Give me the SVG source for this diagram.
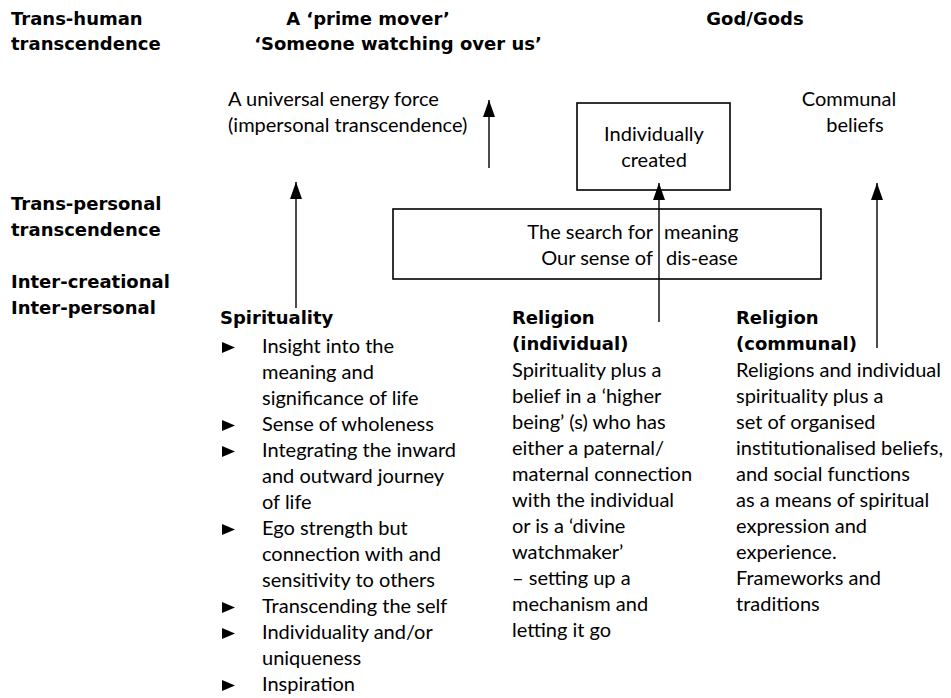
<svg xmlns="http://www.w3.org/2000/svg" width="951" height="698" viewBox="0 0 951 698">
<style>
text{font-family:Lato,"Liberation Sans",sans-serif;font-size:20px;fill:#000}
.b{font-family:"DejaVu Sans","Liberation Sans",sans-serif;font-weight:bold;font-size:18px}
.c{text-anchor:middle}
.e{text-anchor:end}
.ln{stroke:#000;stroke-width:1.4;fill:none}
.bx{stroke:#000;stroke-width:1.6;fill:#fff}
</style>
<defs>
<marker id="ah" markerUnits="userSpaceOnUse" markerWidth="17" markerHeight="12" viewBox="0 0 17 12" refX="17" refY="6" orient="auto">
<path d="M0,0 L17,6 L0,12 Z" fill="#000"/>
</marker>
<path id="bul" d="M0,0 L13,5.5 L0,11 Z" fill="#000"/>
</defs>
<rect width="951" height="698" fill="#fff"/>
<g id="levels">
<text class="b" x="11" y="25">Trans-human</text>
<text class="b" x="11" y="50">transcendence</text>
<text class="b" x="11" y="210">Trans-personal</text>
<text class="b" x="11" y="236">transcendence</text>
<text class="b" x="11" y="288">Inter-creational</text>
<text class="b" x="11" y="314">Inter-personal</text>
</g>
<g id="top-labels">
<text class="b c" x="368" y="25">A ‘prime mover’</text>
<text class="b c" x="398" y="50">‘Someone watching over us’</text>
<text class="b c" x="755" y="25">God/Gods</text>
</g>
<g id="universal">
<text x="228" y="106">A universal energy force</text>
<text x="228" y="132">(impersonal transcendence)</text>
</g>
<g id="communal-beliefs">
<text class="c" x="849" y="106">Communal</text>
<text class="c" x="855" y="132">beliefs</text>
</g>
<g id="individually-created">
<rect class="bx" x="577" y="103" width="153" height="87"/>
<text class="c" x="654" y="141">Individually</text>
<text class="c" x="654" y="167">created</text>
</g>
<g id="search">
<rect class="bx" x="393" y="209" width="428" height="70"/>
<text class="e" x="653" y="239">The search for</text>
<text x="664" y="239">meaning</text>
<text class="e" x="653" y="265">Our sense of</text>
<text x="666" y="265">dis-ease</text>
</g>
<g id="connectors">
<line class="ln" x1="489" y1="168" x2="489" y2="100" marker-end="url(#ah)"/>
<line class="ln" x1="296" y1="308" x2="296" y2="182" marker-end="url(#ah)"/>
<line class="ln" x1="659" y1="322" x2="659" y2="183" marker-end="url(#ah)"/>
<line class="ln" x1="877" y1="348" x2="877" y2="183" marker-end="url(#ah)"/>
</g>
<g id="spirituality">
<text class="b" x="220" y="324">Spirituality</text>
<use href="#bul" x="222" y="342"/>
<text x="262" y="353">Insight into the</text>
<text x="262" y="379">meaning and</text>
<text x="262" y="405">significance of life</text>
<use href="#bul" x="222" y="420"/>
<text x="262" y="431">Sense of wholeness</text>
<use href="#bul" x="222" y="446"/>
<text x="262" y="457">Integrating the inward</text>
<text x="262" y="483">and outward journey</text>
<text x="262" y="509">of life</text>
<use href="#bul" x="222" y="524"/>
<text x="262" y="535">Ego strength but</text>
<text x="262" y="561">connection with and</text>
<text x="262" y="587">sensitivity to others</text>
<use href="#bul" x="222" y="602"/>
<text x="262" y="613">Transcending the self</text>
<use href="#bul" x="222" y="628"/>
<text x="262" y="639">Individuality and/or</text>
<text x="262" y="665">uniqueness</text>
<use href="#bul" x="222" y="680"/>
<text x="262" y="691">Inspiration</text>
</g>
<g id="religion-individual">
<text class="b" x="512" y="324">Religion</text>
<text class="b" x="512" y="350">(individual)</text>
<text x="512" y="377">Spirituality plus a</text>
<text x="512" y="403">belief in a ‘higher</text>
<text x="512" y="429">being’ (s) who has</text>
<text x="512" y="455">either a paternal/</text>
<text x="512" y="481">maternal connection</text>
<text x="512" y="507">with the individual</text>
<text x="512" y="533">or is a ‘divine</text>
<text x="512" y="559">watchmaker’</text>
<text x="512" y="585">– setting up a</text>
<text x="512" y="611">mechanism and</text>
<text x="512" y="637">letting it go</text>
</g>
<g id="religion-communal">
<text class="b" x="736" y="324">Religion</text>
<text class="b" x="736" y="350">(communal)</text>
<text x="736" y="377">Religions and individual</text>
<text x="736" y="403">spirituality plus a</text>
<text x="736" y="429">set of organised</text>
<text x="736" y="455">institutionalised beliefs,</text>
<text x="736" y="481">and social functions</text>
<text x="736" y="507">as a means of spiritual</text>
<text x="736" y="533">expression and</text>
<text x="736" y="559">experience.</text>
<text x="736" y="585">Frameworks and</text>
<text x="736" y="611">traditions</text>
</g>
</svg>
